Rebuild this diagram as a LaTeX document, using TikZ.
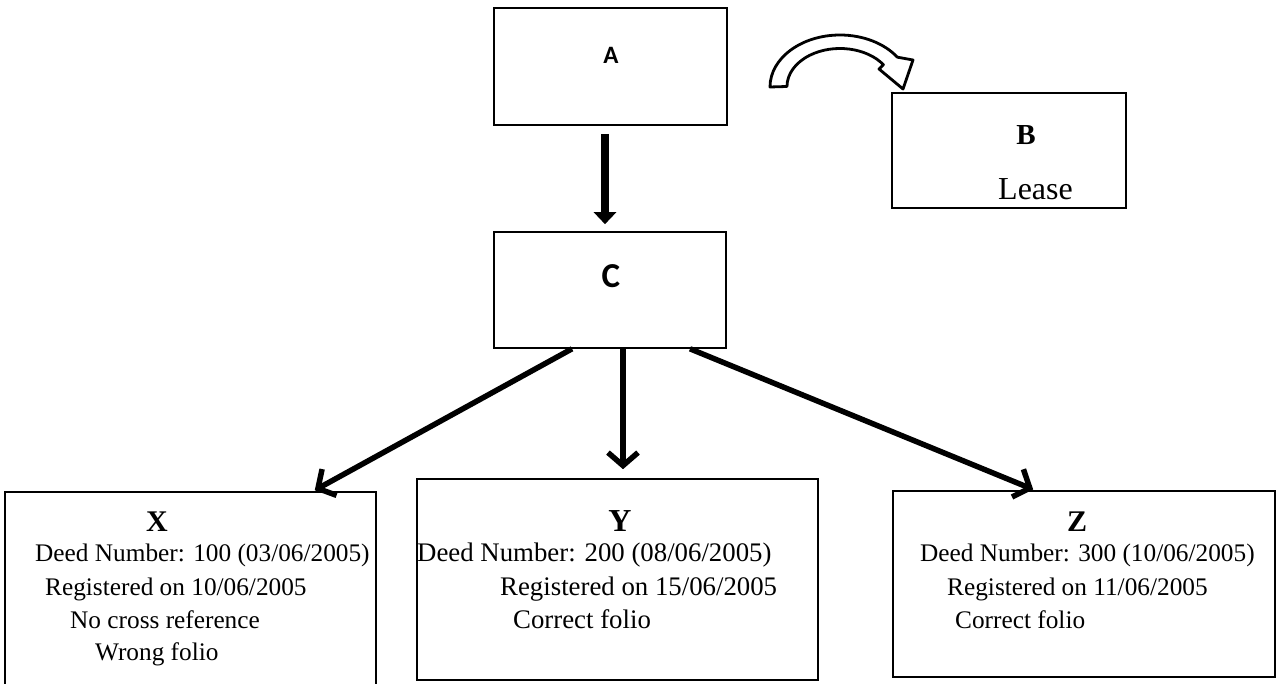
\documentclass[tikz,border=0pt]{standalone}
\usepackage{fontspec}
\setmainfont{Liberation Serif}
\newfontfamily\carlito{Carlito}
\usetikzlibrary{arrows.meta}
\tikzset{
  box/.style={draw, line width=1.6pt, inner sep=0pt},
  barrow/.style={line width=5.5pt, -{Straight Barb[length=13pt, width=30pt]}},
  tarrow/.style={line width=7.5pt, -{Triangle[length=12pt, width=22pt]}},
  txt/.style={anchor=base west, inner sep=0pt, font=\fontsize{25.3}{30}\selectfont},
  txty/.style={anchor=base west, inner sep=0pt, font=\fontsize{26.8}{30}\selectfont},
  ttl/.style={anchor=base, inner sep=0pt, font=\fontsize{30}{32}\selectfont\bfseries},
  sans/.style={inner sep=0pt, font=\carlito\bfseries\fontsize{#1}{#1}\selectfont},
}
\begin{document}
\begin{tikzpicture}[x=1pt,y=-1pt]
\useasboundingbox (0,0) rectangle (1281,684);
% boxes
\node[box, minimum width=233, minimum height=117] (A) at (610.5,66.5) {};
\node[box, minimum width=234, minimum height=115] (B) at (1009,150.5) {};
\node[box, minimum width=232, minimum height=116] (C) at (610,290) {};
\node[box, minimum width=371, minimum height=208] (X) at (190.5,596) {};
\node[box, minimum width=401, minimum height=201] (Y) at (617.5,579.5) {};
\node[box, minimum width=382, minimum height=186] (Z) at (1084,584) {};
% labels in A, B, C
\node[sans=25] (Alab) at (611,55) {A};
\node[sans=35] (Clab) at (611,276) {C};
\node[ttl, font=\fontsize{29}{30}\selectfont\bfseries] (Blab) at (1026,145) {B};
\node[anchor=base west, inner sep=0pt, font=\fontsize{32}{34}\selectfont] (Blease) at (998,200) {Lease};
% X
\node[ttl] (Xt) at (157,531) {X};
\node[txt] (X1) at (35,561) {Deed Number: 100 (03/06/2005)};
\node[txt] (X2) at (45,595) {Registered on 10/06/2005};
\node[txt] (X3) at (70,628) {No cross reference};
\node[txt] (X4) at (95,660) {Wrong folio};
% Y
\node[ttl, font=\fontsize{32}{34}\selectfont\bfseries] (Yt) at (620,531) {Y};
\node[txty] (Y1) at (417,561) {Deed Number: 200 (08/06/2005)};
\node[txty] (Y2) at (500,595) {Registered on 15/06/2005};
\node[txty] (Y3) at (513,628) {Correct folio};
% Z
\node[ttl] (Zt) at (1077,531) {Z};
\node[txt] (Z1) at (920,561) {Deed Number: 300 (10/06/2005)};
\node[txt] (Z2) at (947,595) {Registered on 11/06/2005};
\node[txt] (Z3) at (955,628) {Correct folio};
% arrows
\draw[tarrow, shorten <=8pt, shorten >=7pt] ([xshift=-5.5pt]A.south) -- ([xshift=-5pt]C.north);
\draw[barrow, shorten >=9pt] ([xshift=13pt]C.south) -- ([xshift=5.5pt]Y.north);
\draw[barrow, shorten >=2pt] ([xshift=-38pt]C.south) -- ([xshift=122.5pt]X.north);
\draw[barrow, shorten >=2pt] ([xshift=80pt]C.south) -- ([xshift=-49pt]Z.north);
% curved block arrow
\draw[line width=2.8pt, line join=round, fill=white]
  (770,87) arc[start angle=180, end angle=325, x radius=70, y radius=52]
  -- (913,60) -- (903,89) -- (879,69) -- (883.4,64.7)
  arc[start angle=325, end angle=180, x radius=53, y radius=38]
  -- cycle;
\end{tikzpicture}
\end{document}
